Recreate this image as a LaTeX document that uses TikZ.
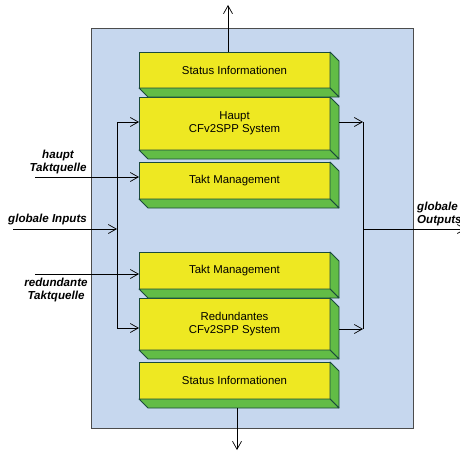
\documentclass[tikz,border=0pt]{standalone}
\usepackage{fontspec}
\setmainfont{Liberation Sans}
\usetikzlibrary{arrows.meta,calc}

\definecolor{boardblue}{HTML}{C6D7EE}
\definecolor{blkyellow}{HTML}{EEE822}
\definecolor{blkgreen}{HTML}{62BC46}
\definecolor{blkedge}{HTML}{1B4A3C}

\tikzset{
  board/.style={draw=black!70, line width=1pt, fill=boardblue, minimum width=322pt,
    minimum height=399pt, inner sep=0pt, outer sep=0pt},
  blk/.style={draw=blkedge, line width=0.8pt, fill=blkyellow, minimum width=191pt,
    inner sep=0pt, outer sep=0pt, align=center, font=\fontsize{11.4}{13.5}\selectfont},
  side/.style={draw=blkedge, line width=0.8pt, fill=blkgreen, line join=round},
  lbl/.style={align=center, inner sep=0pt, font=\fontsize{11.6}{13}\selectfont\bfseries\itshape},
  arr/.style={-{Straight Barb[length=8pt,width=9pt]}, line width=0.7pt},
  bus/.style={line width=0.7pt}
}

\begin{document}
\begin{tikzpicture}[x=1pt,y=-1pt]
            \useasboundingbox (0,0) rectangle (460,452);

            \coordinate (topc) at (228,5);
            \coordinate (botc) at (237,450);
            \coordinate (lbt) at (117,122);
            \coordinate (lbb) at (117,328);
            \coordinate (rbt) at (363,122);
            \coordinate (rbb) at (363,329);
            \coordinate (gin) at (13,229);
            \coordinate (hqin) at (35,177);
            \coordinate (rqin) at (35,274);
            \coordinate (gout) at (466,229);

            \node[board] (brd) at (252,228.5) {};

            \node[blk, minimum height=36pt] (si1) at (234.5,70) {Status Informationen};
            \node[blk, minimum height=53pt] (hs) at (234.5,123.5) {Haupt\\CFv2SPP System};
            \node[blk, minimum height=37pt] (tm1) at (234.5,180.5) {Takt Management};
            \node[blk, minimum height=37pt] (tm2) at (234.5,270.5) {Takt Management};
            \node[blk, minimum height=52pt] (rs) at (234.5,324) {Redundantes\\CFv2SPP System};
            \node[blk, minimum height=37pt] (si2) at (234.5,380.5) {Status Informationen};

            \foreach \n in {si1,hs,tm1,tm2,rs,si2} {
                \draw[side] (\n.south east) -- (\n.north east) -- ++(9,9) -- ([shift={(9,9)}]\n.south east) -- cycle;
                \draw[side] (\n.south west) -- ++(9,9) -- ([shift={(9,9)}]\n.south east) -- (\n.south east) -- cycle;
            }

            \node[lbl] (hql) at (58,162) {haupt\\Taktquelle};
            \node[lbl] (gil) at (47.5,219) {globale Inputs};
            \node[lbl] (rql) at (56,289.5) {redundante\\Taktquelle};
            \node[lbl, align=left, anchor=west] (gol) at (417,214) {globale\\Outputs};

            % inputs
            \draw[bus] (lbt) -- (lbb);
            \draw[arr] (lbt) -- (lbt -| hs.west);
            \draw[arr] (lbb) -- (lbb -| rs.west);
            \draw[arr] (gin) -- (gin -| lbt);
            \draw[arr] (hqin) -- (hqin -| tm1.west);
            \draw[arr] (rqin) -- (rqin -| tm2.west);

            % outputs
            \draw[bus] (rbt) -- (rbb);
            \draw[arr] ($(hs.east |- rbt)+(9,0)$) -- (rbt);
            \draw[arr] ($(rs.east |- rbb)+(9,0)$) -- (rbb);
            \draw[arr] (gout -| rbt) -- (gout);

            % status
            \draw[arr] (si1.north -| topc) -- (topc);
            \draw[arr] ($(si2.south -| botc)+(0,9)$) -- (botc);
        \end{tikzpicture}
\end{document}
